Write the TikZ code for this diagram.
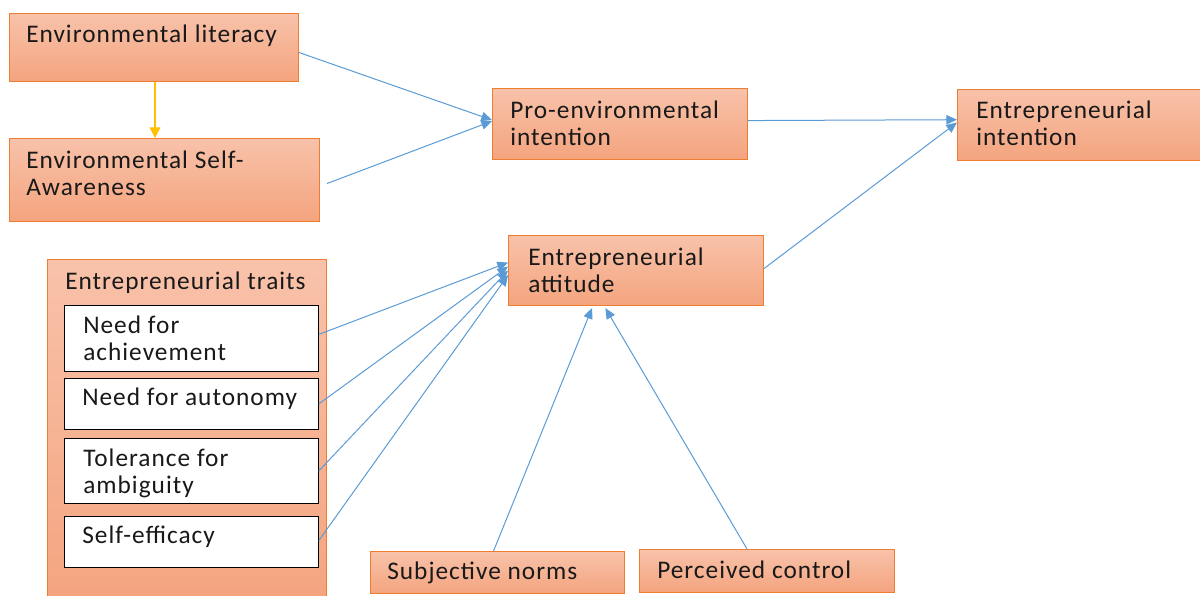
\documentclass[tikz,border=0pt]{standalone}
\usepackage{fontspec}
\setmainfont{Carlito}[LetterSpace=4]
\usetikzlibrary{arrows.meta}
\definecolor{boxtop}{RGB}{248,194,170}
\definecolor{boxbot}{RGB}{244,164,126}
\definecolor{boxline}{RGB}{237,125,49}
\definecolor{arrblue}{RGB}{91,155,213}
\definecolor{arryel}{RGB}{255,192,0}
\tikzset{
  obox/.style={draw=boxline, line width=0.8pt, top color=boxtop, bottom color=boxbot, anchor=north west, inner sep=0pt},
  wbox/.style={draw=black, line width=0.6pt, fill=white, anchor=north west, inner sep=0pt},
  lbl/.style={anchor=base west, inner sep=0pt, align=left, font=\fontsize{19}{20.25}\selectfont, text=black!90},
  link/.style={draw=arrblue, line width=0.75pt, -{Triangle[length=8pt,width=7pt]}},
  ylink/.style={draw=arryel, line width=0.9pt, -{Triangle[length=8pt,width=8pt]}}
}
\begin{document}
\begin{tikzpicture}[x=0.75pt,y=-0.75pt]
\useasboundingbox (0,0) rectangle (1200,596);
% boxes
\node[obox, minimum width=216.75pt, minimum height=51pt] (lit) at (9,13) {};
\node[obox, minimum width=232.5pt, minimum height=62.25pt] (sa) at (9,138) {};
\node[obox, minimum width=191.25pt, minimum height=53.25pt] (pro) at (492,88) {};
\node[obox, minimum width=190pt, minimum height=53.25pt] (ent) at (957,89) {};
\node[obox, minimum width=191.25pt, minimum height=52.5pt] (att) at (508,235) {};
\node[obox, minimum width=209.25pt, minimum height=260pt] (tr) at (47,259) {};
\node[wbox, minimum width=190.5pt, minimum height=49.5pt] (nach) at (64,305) {};
\node[wbox, minimum width=190.5pt, minimum height=38.25pt] (naut) at (64,378) {};
\node[wbox, minimum width=190.5pt, minimum height=48.75pt] (tol) at (64,438) {};
\node[wbox, minimum width=190.5pt, minimum height=38.25pt] (se) at (64,516) {};
\node[obox, minimum width=190.5pt, minimum height=31.5pt] (sn) at (370,551) {};
\node[obox, minimum width=191.25pt, minimum height=32.25pt] (pc) at (639,549) {};
% labels (two-line labels anchored at the baseline of their last line)
\node[lbl] (tlit) at (26,42) {Environmental literacy};
\node[lbl] (tsa) at (26,195) {Environmental Self-\\Awareness};
\node[lbl] (tpro) at (510,145) {Pro-environmental\\intention};
\node[lbl] (tent) at (976,145) {Entrepreneurial\\intention};
\node[lbl] (tatt) at (528,292) {Entrepreneurial\\attitude};
\node[lbl] (ttr) at (65,289) {Entrepreneurial traits};
\node[lbl] (tnach) at (83,360) {Need for\\achievement};
\node[lbl] (tnaut) at (82,405) {Need for autonomy};
\node[lbl] (ttol) at (83,493) {Tolerance for\\ambiguity};
\node[lbl] (tse) at (82,543) {Self-efficacy};
\node[lbl] (tsn) at (387,579) {Subjective norms};
\node[lbl] (tpc) at (657,578) {Perceived control};
% connectors
\draw[ylink] (lit.south -| 155,0) -- (sa.north -| 155,0);
\draw[link] ([yshift=-3.75pt]lit.east) -- ([yshift=3pt]pro.west);
\draw[link] ([xshift=5.25pt,yshift=-2.6pt]sa.east) -- ([yshift=2.2pt]pro.west);
\draw[link] ([yshift=2.6pt]pro.east) -- ([yshift=4pt]ent.west);
\draw[link] ([yshift=1.5pt]att.east) -- ([yshift=1.9pt]ent.west);
\draw[link] ([yshift=3pt]nach.east) -- ([yshift=6pt]att.west);
\draw[link] ([yshift=0pt]naut.east) -- ([yshift=3pt]att.west);
\draw[link] ([yshift=0pt]tol.east) -- ([yshift=0pt]att.west);
\draw[link] ([yshift=1pt]se.east) -- ([yshift=-3.5pt]att.west);
\draw[link] ([xshift=-3pt]sn.north) -- ([xshift=-33pt,yshift=-1.5pt]att.south);
\draw[link] ([xshift=-15pt]pc.north) -- ([xshift=-23pt,yshift=-1.5pt]att.south);
\end{tikzpicture}
\end{document}
